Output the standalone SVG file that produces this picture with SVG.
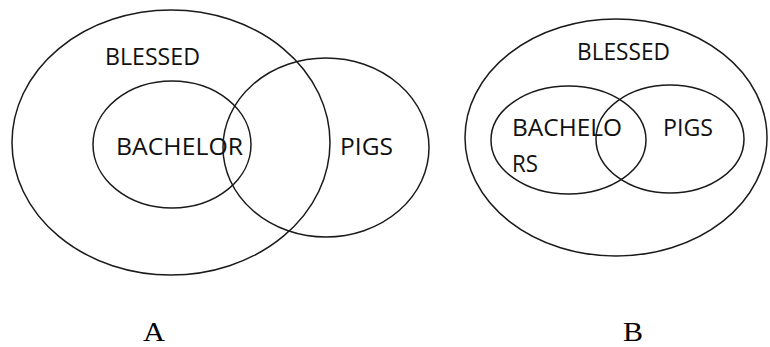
<svg xmlns="http://www.w3.org/2000/svg" width="770" height="347" viewBox="0 0 770 347">
<style>
.c{fill:none;stroke:#1a1a1a;stroke-width:1.5}
.t{font-family:"Open Sans","Liberation Sans",sans-serif;font-size:23px;fill:#111}
.l{font-family:"Liberation Serif",serif;font-size:28px;fill:#000}
</style>
<rect width="770" height="347" fill="#fff"/>
<g id="diagramA">
<g id="A-blessed"><ellipse class="c" cx="171" cy="142.5" rx="159" ry="132.5"/><text class="t" x="105" y="65" textLength="95" lengthAdjust="spacingAndGlyphs">BLESSED</text></g>
<g id="A-bachelor"><ellipse class="c" cx="172" cy="144.5" rx="79" ry="63.5"/><text class="t" x="116" y="155" textLength="127" lengthAdjust="spacingAndGlyphs">BACHELOR</text></g>
<g id="A-pigs"><ellipse class="c" cx="326" cy="147.5" rx="103" ry="89.5"/><text class="t" x="340" y="155" textLength="53" lengthAdjust="spacingAndGlyphs">PIGS</text></g>
<text id="labelA" class="l" x="143" y="341" textLength="22" lengthAdjust="spacingAndGlyphs">A</text>
</g>
<g id="diagramB">
<g id="B-blessed"><ellipse class="c" cx="616" cy="137.5" rx="151" ry="118.5"/><text class="t" x="577" y="60" textLength="93" lengthAdjust="spacingAndGlyphs">BLESSED</text></g>
<g id="B-bachelors"><ellipse class="c" cx="568.5" cy="140" rx="77.5" ry="54"/><text class="t" x="512" y="136" textLength="110" lengthAdjust="spacingAndGlyphs">BACHELO</text><text class="t" x="512" y="172" textLength="26" lengthAdjust="spacingAndGlyphs">RS</text></g>
<g id="B-pigs"><ellipse class="c" cx="670" cy="139" rx="74" ry="54"/><text class="t" x="663" y="136" textLength="50" lengthAdjust="spacingAndGlyphs">PIGS</text></g>
<text id="labelB" class="l" x="623" y="341" textLength="20" lengthAdjust="spacingAndGlyphs">B</text>
</g>
<g id="connectors"/>
</svg>
